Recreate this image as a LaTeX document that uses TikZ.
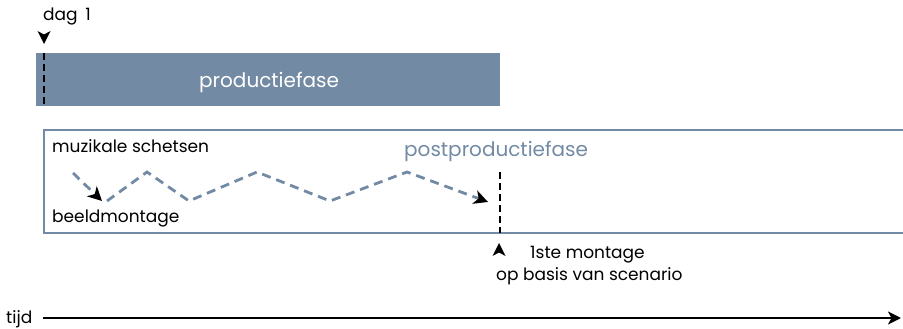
\documentclass[tikz,border=0pt]{standalone}
\usepackage{fontspec}
\setmainfont{Poppins}
\usetikzlibrary{arrows.meta}
\definecolor{slate}{RGB}{114,138,164}
\tikzset{
  lbl/.style={anchor=base west, inner sep=0pt, font=\fontsize{17}{20}\selectfont},
  big/.style={font=\fontsize{20}{24}\selectfont},
  marker/.style={black, line width=2pt, dash pattern=on 7pt off 4pt},
  pointer/.style={fill=black},
  flow/.style={slate, line width=2.8pt, dash pattern=on 9pt off 6pt},
  flowhead/.style={-{Stealth[length=14pt,width=14pt,inset=4pt,color=black]}},
  phase/.style={draw=slate, line width=2.4pt},
}
\begin{document}
\begin{tikzpicture}[x=1pt,y=-1pt]
\useasboundingbox (0,0) rectangle (903,329);

% production phase bar
\fill[slate] (36,53) rectangle (500,106);
\node[lbl, big, text=white] (prod) at (199,88) {productiefase};
\coordinate (d1top) at (44,53);
\coordinate (d1bot) at (44,106);
\draw[marker] (d1top) -- (d1bot);
\node[lbl] (dag) at (43,21) {dag\hspace{0.45em}1};
% downward pointer under "dag 1"
\coordinate (dagtip) at (44,44);
\path[pointer] (dagtip) -- ++(-6.5,-13) -- ++(6.5,3.5) -- ++(6.5,-3.5) -- cycle;

% post-production band, open to the right
\draw[phase] (910,130) -- (44,130) -- (44,233) -- (910,233);
\node[lbl, big, text=slate] (post) at (404,156) {postproductiefase};
\node[lbl] (muz) at (52,153) {muzikale schetsen};
\node[lbl] (beeld) at (52,222) {beeldmontage};

% alternation between sketches and editing
\coordinate (z0) at (73,173);
\coordinate (z1) at (102,201);
\coordinate (z2) at (107,201);
\coordinate (z3) at (147,172);
\coordinate (z4) at (189,201);
\coordinate (z5) at (257,172);
\coordinate (z6) at (330,201);
\coordinate (z7) at (407,172);
\coordinate (z8) at (488,202);
\draw[flow, flowhead] (z0) -- (z1);
\draw[flow, flowhead] (z2) -- (z3) -- (z4) -- (z5) -- (z6) -- (z7) -- (z8);

% first edit marker
\coordinate (m1top) at (500,172);
\coordinate (m1bot) at (500,233);
\draw[marker] (m1top) -- (m1bot);
% upward pointer above the caption
\coordinate (mtip) at (499,243);
\path[pointer] (mtip) -- ++(6.5,13) -- ++(-6.5,-3.5) -- ++(-6.5,3.5) -- cycle;
\node[lbl] (first) at (530,258) {1ste montage};
\node[lbl] (basis) at (496,280) {op basis van scenario};

% time axis
\node[lbl] (tijd) at (6,323) {tijd};
\coordinate (tstart) at (43,318);
\coordinate (tend) at (901,318);
\draw[black, line width=2.6pt, -{Stealth[length=13pt,width=13pt,inset=3.5pt]}] (tstart) -- (tend);
\end{tikzpicture}
\end{document}
